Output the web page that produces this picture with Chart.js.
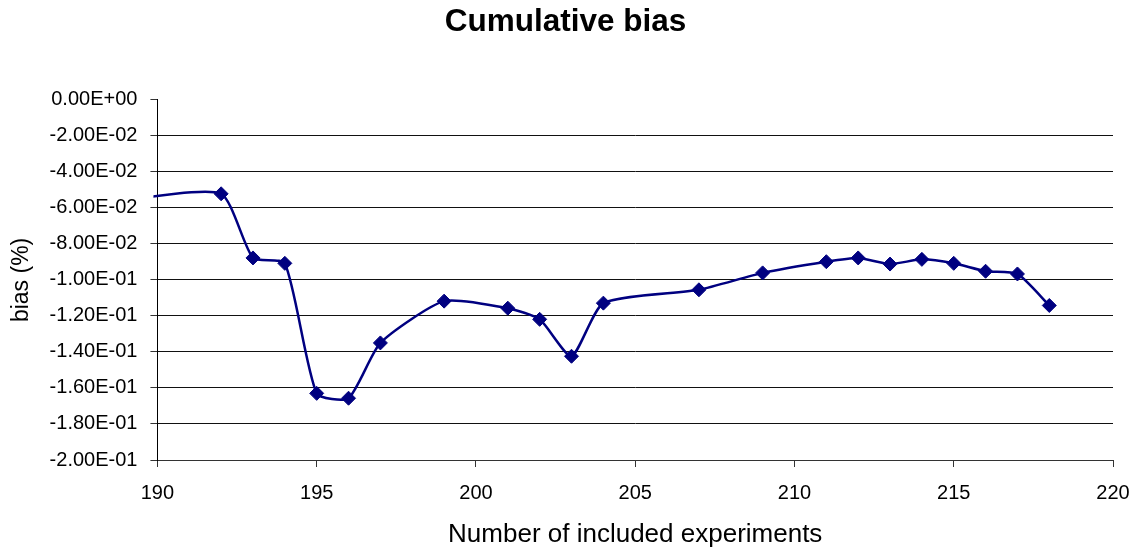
<!DOCTYPE html>
<html>
<head>
<meta charset="utf-8">
<script src="https://cdn.jsdelivr.net/npm/chart.js@4"></script>
<style>
  html, body { margin: 0; padding: 0; background: #fff; }
  #wrap { width: 1140px; height: 548px; }
</style>
</head>
<body>
<div id="wrap"><canvas id="myChart"></canvas></div>
<script>
// Data (x = number of included experiments, y = bias)
const experiments = [189, 192, 193, 194, 195, 196, 197, 199, 201, 202, 203, 204, 207, 209, 211, 212, 213, 214, 215, 216, 217, 218];
const bias = [-0.0555, -0.0522, -0.0878, -0.0908, -0.1630, -0.1657, -0.1350, -0.1118, -0.1157, -0.1219, -0.1424, -0.1129, -0.1055, -0.0961, -0.0899, -0.0878, -0.0912, -0.0886, -0.0908, -0.0952, -0.0967, -0.1142];

const fontFamily = '"Liberation Sans", Arial, sans-serif';

// Excel style scientific ticks: -2.00E-02
function sciLabel(v) {
    if (Math.abs(v) < 1e-12) v = 0;
    let s = v.toExponential(2).toUpperCase();
    return s.replace(/E([+-])(\d)$/, 'E$10$2');
}

const points = experiments.map((x, i) => ({ x: x, y: bias[i] }));

const ctx = document.getElementById('myChart').getContext('2d');
new Chart(ctx, {
    type: 'line',
    data: {
        datasets: [{
            label: 'bias',
            data: points,
            borderColor: '#000080',
            backgroundColor: '#000080',
            borderWidth: 2.5,
            tension: 0.2,
            pointStyle: 'rectRot',
            pointRadius: 7,
            pointBorderWidth: 1,
            pointBorderColor: '#000080',
            pointBackgroundColor: '#000080',
            clip: 4
        }]
    },
    options: {
        responsive: true,
        maintainAspectRatio: false,
        animation: false,
        layout: {
            padding: { left: 18, right: 27, top: 0, bottom: 0 }
        },
        plugins: {
            legend: { display: false },
            tooltip: { enabled: false },
            title: {
                display: true,
                text: 'Cumulative bias',
                color: '#000',
                font: { family: fontFamily, size: 31.5, weight: 'bold' },
                padding: { top: 3, bottom: 59 }
            }
        },
        scales: {
            x: {
                type: 'linear',
                min: 190,
                max: 220,
                // last label may stick out into the right margin
                afterFit: (s) => { s.paddingRight = 0; },
                border: { display: true, color: '#333', width: 1 },
                grid: {
                    drawOnChartArea: false,
                    drawTicks: true,
                    tickLength: 7,
                    tickColor: '#333'
                },
                ticks: {
                    stepSize: 5,
                    color: '#000',
                    padding: 14,
                    maxRotation: 0,
                    font: { family: fontFamily, size: 20 }
                },
                title: {
                    display: true,
                    text: 'Number of included experiments',
                    color: '#000',
                    font: { family: fontFamily, size: 26, lineHeight: 1 },
                    padding: { top: 3, bottom: 0 }
                }
            },
            y: {
                min: -0.2,
                max: 0,
                border: { display: true, color: '#000', width: 1 },
                grid: {
                    color: (c) => (c.tick && Math.abs(c.tick.value) < 1e-9) ? 'rgba(0,0,0,0)' : '#111',
                    lineWidth: 1,
                    drawTicks: true,
                    tickLength: 7,
                    tickColor: '#333'
                },
                ticks: {
                    stepSize: 0.02,
                    color: '#000',
                    padding: 13,
                    font: { family: fontFamily, size: 20 },
                    callback: (v) => sciLabel(v)
                },
                title: {
                    display: true,
                    text: 'bias (%)',
                    color: '#000',
                    font: { family: fontFamily, size: 23 },
                    padding: { top: -10, bottom: 1 }
                }
            }
        }
    }
});
</script>
</body>
</html>
